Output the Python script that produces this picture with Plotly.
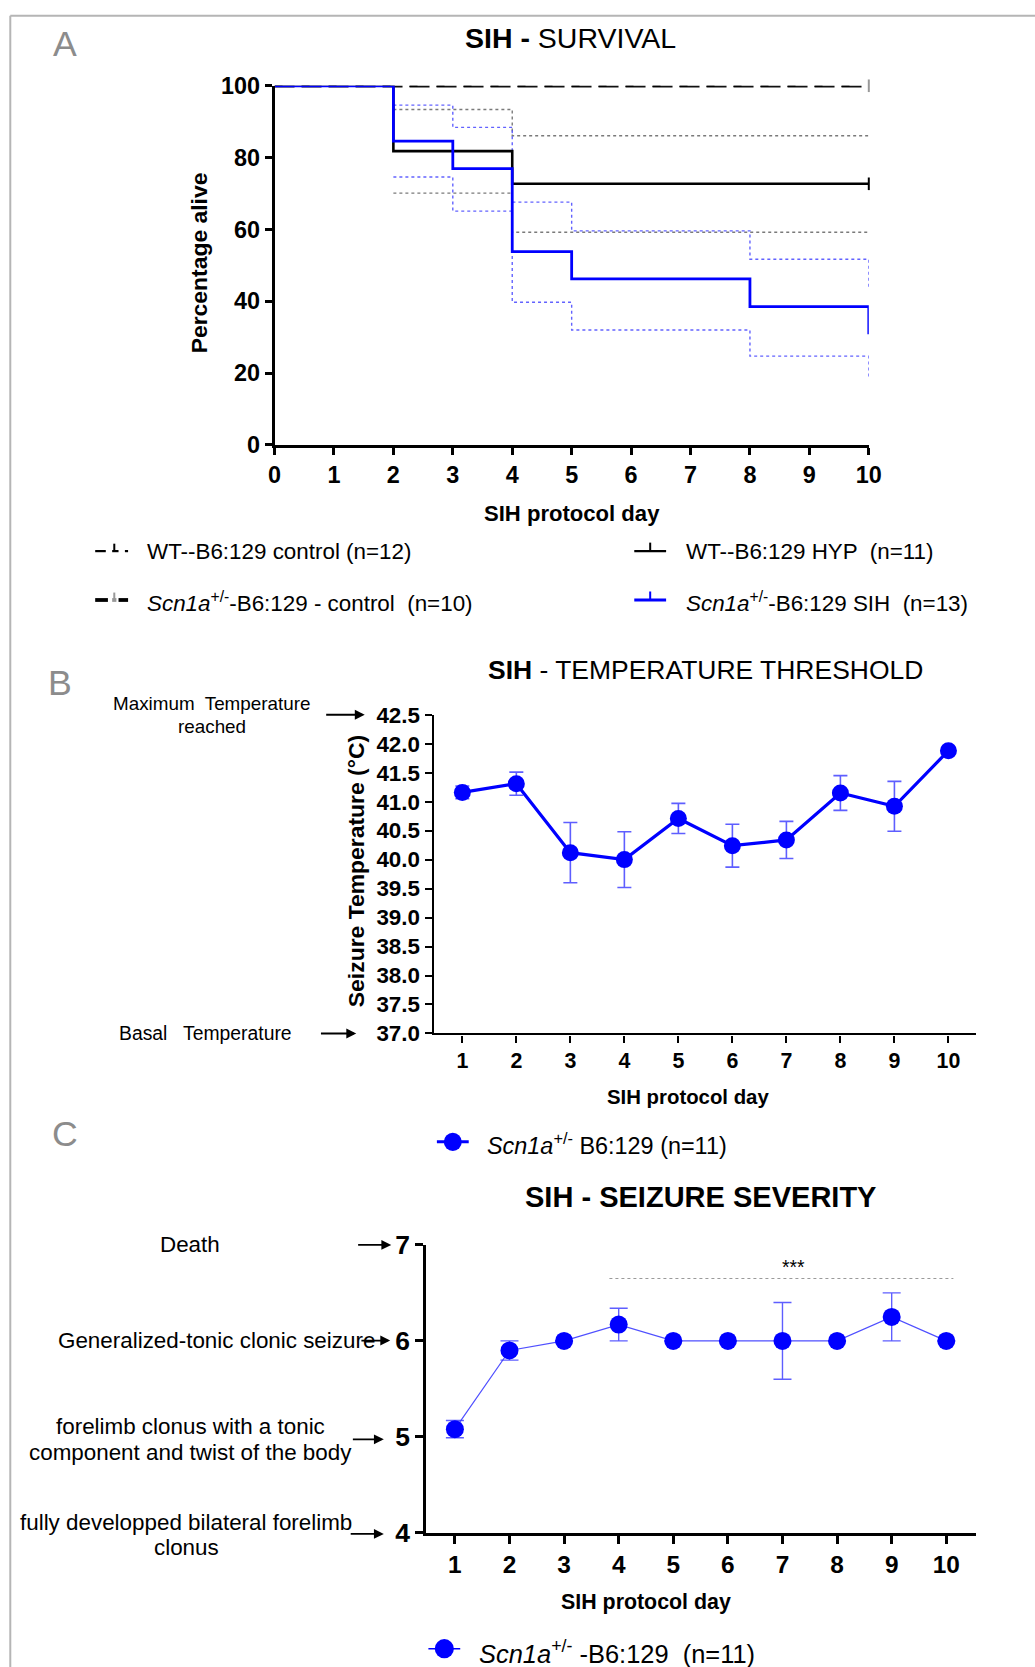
import plotly.graph_objects as go

# ---------------- DATA ----------------
# Panel A - Kaplan-Meier survival
ctrl_days = [0, 10]
wt_ctrl_surv = [100, 100]
scn_ctrl_surv = [100, 100]

hyp_days = [0, 2, 4, 10]
hyp_surv = [100, 81.8, 72.7, 72.7]
hyp_ci_days = [2, 4, 10]
hyp_ci_upper = [93.4, 86.1, 86.1]
hyp_ci_lower = [70.1, 59.2, 59.2]

sih_days = [0, 2, 3, 4, 5, 8, 10]
sih_surv = [100, 84.6, 76.9, 53.8, 46.2, 38.5, 30.8]
sih_ci_days = [2, 3, 4, 5, 8, 10]
sih_ci_upper = [94.6, 88.4, 67.6, 59.6, 51.7, 43.8]
sih_ci_lower = [74.6, 65.1, 39.7, 32.0, 24.7, 18.6]

surv_xticks = list(range(0, 11))
surv_yticks = [0, 20, 40, 60, 80, 100]

# Panel B - temperature threshold
temp_days = [1, 2, 3, 4, 5, 6, 7, 8, 9, 10]
temp_mean = [41.16, 41.31, 40.12, 40.00, 40.71, 40.24, 40.34, 41.15, 40.92, 41.88]
temp_err = [0.11, 0.20, 0.52, 0.48, 0.26, 0.37, 0.32, 0.30, 0.43, 0.04]
temp_yticks = [37.0, 37.5, 38.0, 38.5, 39.0, 39.5, 40.0, 40.5, 41.0, 41.5, 42.0, 42.5]

# Panel C - seizure severity
sev_days = [1, 2, 3, 4, 5, 6, 7, 8, 9, 10]
sev_mean = [5.08, 5.90, 6.00, 6.17, 6.00, 6.00, 6.00, 6.00, 6.25, 6.00]
sev_err = [0.09, 0.10, 0.0, 0.17, 0.0, 0.0, 0.40, 0.0, 0.25, 0.0]
sev_yticks = [4, 5, 6, 7]
sig_x = [3.83, 10.13]
sig_y = 6.65
sig_label = "***"

# ---------------- LAYOUT HELPERS ----------------
W, H = 1035, 1667
VW, VH = 974.0, 1569.0        # reference measured in a scaled view
OX, OY, SC = 4.9, 14.4, 0.982  # observed placement of the page in the photographed view
FS = 1.0 / SC


def px(x):
    return ((x - OX) / SC) / VW


def py(y):
    return 1 - ((y - OY) / SC) / VH


FONT = "Liberation Sans, Arial, sans-serif"
BLUE = "#0000FF"
BLUE_ERR = "rgba(40,40,255,0.75)"
BLUE_DOT = "rgba(70,70,255,0.85)"
GRAY_DOT = "#7a7a7a"

fig = go.Figure()

# ---- Panel A traces ----
fig.add_trace(go.Scatter(x=ctrl_days, y=scn_ctrl_surv, mode="lines",
                         line=dict(color="#111111", width=3.4, dash="20px,7px"), xaxis="x", yaxis="y",
                         showlegend=False, cliponaxis=False))
fig.add_trace(go.Scatter(x=ctrl_days, y=wt_ctrl_surv, mode="lines",
                         line=dict(color="black", width=2.6, dash="8px,19px"), xaxis="x", yaxis="y",
                         showlegend=False, cliponaxis=False))
for ys in [hyp_ci_upper, hyp_ci_lower]:
    fig.add_trace(go.Scatter(x=hyp_ci_days, y=ys, mode="lines", line_shape="hv",
                             line=dict(color=GRAY_DOT, width=1.4, dash="dot"), xaxis="x", yaxis="y", showlegend=False))
for ys in [sih_ci_upper, sih_ci_lower]:
    fig.add_trace(go.Scatter(x=sih_ci_days, y=ys, mode="lines", line_shape="hv",
                             line=dict(color=BLUE_DOT, width=1.4, dash="dot"), xaxis="x", yaxis="y", showlegend=False))
fig.add_trace(go.Scatter(x=hyp_days, y=hyp_surv, mode="lines", line_shape="hv",
                         line=dict(color="black", width=2.6), xaxis="x", yaxis="y", showlegend=False))
fig.add_trace(go.Scatter(x=sih_days, y=sih_surv, mode="lines", line_shape="hv",
                         line=dict(color=BLUE, width=2.8), xaxis="x", yaxis="y", showlegend=False,
                         cliponaxis=False))
# censor ticks at end of follow-up
fig.add_trace(go.Scatter(x=[hyp_days[-1]], y=[hyp_surv[-1]], mode="markers",
                         marker=dict(symbol="line-ns-open", size=9, color="black",
                                     line=dict(color="black", width=2)),
                         xaxis="x", yaxis="y", showlegend=False, cliponaxis=False))
fig.add_trace(go.Scatter(x=[ctrl_days[-1]], y=[scn_ctrl_surv[-1]], mode="markers",
                         marker=dict(symbol="line-ns-open", size=9, color="#999999",
                                     line=dict(color="#999999", width=2)),
                         xaxis="x", yaxis="y", showlegend=False, cliponaxis=False))

# ---- Panel B trace ----
fig.add_trace(go.Scatter(x=temp_days, y=temp_mean, mode="lines+markers",
                         line=dict(color=BLUE, width=3.2),
                         marker=dict(color=BLUE, size=17),
                         error_y=dict(type="data", array=temp_err, color=BLUE_ERR, thickness=1.6, width=7),
                         xaxis="x2", yaxis="y2", showlegend=False, cliponaxis=False))

# ---- Panel C trace ----
fig.add_trace(go.Scatter(x=sev_days, y=sev_mean, mode="lines+markers",
                         line=dict(color="rgba(60,60,255,0.9)", width=1.2),
                         marker=dict(color=BLUE, size=18),
                         error_y=dict(type="data", array=sev_err, color=BLUE_ERR, thickness=1.4, width=9),
                         xaxis="x3", yaxis="y3", showlegend=False, cliponaxis=False))
fig.add_trace(go.Scatter(x=sig_x, y=[sig_y, sig_y], mode="lines",
                         line=dict(color="#9a9a9a", width=1.2, dash="dot"),
                         xaxis="x3", yaxis="y3", showlegend=False))


def tf(size):
    return dict(family=FONT, size=size * FS, color="black", weight="bold")


axis_common = dict(showgrid=False, zeroline=False, showline=True, linecolor="black",
                   ticks="outside", tickcolor="black", fixedrange=True)

fig.update_layout(
    width=W, height=H,
    margin=dict(l=0, r=0, t=0, b=0),
    paper_bgcolor="white", plot_bgcolor="white",
    showlegend=False,
    xaxis=dict(domain=[px(257), px(817)], range=[0, 10], tickvals=surv_xticks,
               linewidth=2.8, ticklen=7, tickwidth=2.8, tickfont=tf(23), anchor="y", **axis_common),
    yaxis=dict(domain=[py(419), py(81)], range=[0, 100], tickvals=surv_yticks,
               linewidth=2.8, ticklen=7, tickwidth=2.8, tickfont=tf(23), anchor="x", **axis_common),
    xaxis2=dict(domain=[px(407), px(918)], range=[0.47, 10.51], tickvals=temp_days,
                linewidth=2.4, ticklen=7, tickwidth=2.2, tickfont=tf(21), anchor="y2", **axis_common),
    yaxis2=dict(domain=[py(973), py(673)], range=[37, 42.5], tickvals=temp_yticks,
                tickformat=".1f",
                linewidth=2.4, ticklen=7, tickwidth=2.2, tickfont=tf(22), anchor="x2", **axis_common),
    xaxis3=dict(domain=[px(400), px(918)], range=[0.476, 10.544], tickvals=sev_days,
                linewidth=2.8, ticklen=8, tickwidth=2.8, tickfont=tf(24), anchor="y3", **axis_common),
    yaxis3=dict(domain=[py(1443), py(1172)], range=[4, 7], tickvals=sev_yticks,
                linewidth=2.8, ticklen=8, tickwidth=2.8, tickfont=tf(26), anchor="x3", **axis_common),
)

ann = []
shapes = []


def text(x, y, s, size=19, xanchor="center", bold=False, color="black", angle=0, family=FONT):
    ann.append(dict(x=px(x), y=py(y), xref="paper", yref="paper", text=s, showarrow=False,
                    xanchor=xanchor, yanchor="middle", textangle=angle,
                    font=dict(family=family, size=size * FS, color=color,
                              weight="bold" if bold else "normal")))


def arrow(x0, x1, y):
    ann.append(dict(x=px(x1), y=py(y), xref="paper", yref="paper", text="", showarrow=True,
                    ax=(x0 - x1) * W / VW / SC, ay=0, axref="pixel", ayref="pixel",
                    arrowhead=2, arrowsize=1.1, arrowwidth=1.8, arrowcolor="black"))


def seg(x0, y0, x1, y1, color="black", width=2, dash="solid", clampy=False):
    Y0, Y1 = py(y0), py(y1)
    if clampy:
        Y0, Y1 = min(Y0, 0.9995), min(Y1, 0.9995)
    shapes.append(dict(type="line", xref="paper", yref="paper", x0=px(x0), y0=Y0, x1=px(x1), y1=Y1,
                       line=dict(color=color, width=width, dash=dash)))


def dot(x, y, r, color=BLUE):
    rx, ry = r / SC / VW, r / SC / VH
    shapes.append(dict(type="circle", xref="paper", yref="paper", x0=px(x) - rx, y0=py(y) - ry,
                       x1=px(x) + rx, y1=py(y) + ry, fillcolor=color, line=dict(color=color, width=0)))


# frame
seg(8, 6, 1000, 6, color="#b5b5b5", width=2, clampy=True)
seg(8, 6, 8, 1600, color="#b5b5b5", width=2, clampy=True)

# panel letters
text(60, 42, "A", size=35, color="#8c8c8c")
text(55, 643, "B", size=35, color="#8c8c8c")
text(60, 1068, "C", size=35, color="#8c8c8c")

# ---- Panel A annotations ----
text(536, 36, "<b>SIH -</b> SURVIVAL", size=28)
text(186, 248, "Percentage alive", size=22.5, bold=True, angle=-90)
text(537, 484, "SIH protocol day", size=21.7, bold=True)

# legend A
seg(88, 519, 98, 519, width=2.2)
seg(104, 519, 110, 519, width=2.2)
seg(106, 519, 106, 512, width=2)
seg(116, 519, 119, 519, width=2.2)
text(135, 519, "WT--B6:129 control (n=12)", size=22, xanchor="left")
seg(596, 519, 626, 519, width=2.4)
seg(611, 519, 611, 511, width=2)
text(643, 519, "WT--B6:129 HYP  (n=11)", size=22, xanchor="left")
seg(88, 565, 100, 565, width=3.8)
seg(104, 565, 108, 565, color="#999999", width=3.8)
seg(106, 565, 106, 558, color="#999999", width=2)
seg(110, 565, 119, 565, width=3.8)
text(135, 567, "<i>Scn1a</i><sup>+/-</sup>-B6:129 - control  (n=10)", size=22, xanchor="left")
seg(596, 565, 626, 565, color=BLUE, width=2.8)
seg(611, 565, 611, 557, color=BLUE, width=2)
text(643, 567, "<i>Scn1a</i><sup>+/-</sup>-B6:129 SIH  (n=13)", size=22, xanchor="left")

# ---- Panel B annotations ----
text(663, 631, "<b>SIH</b> - TEMPERATURE THRESHOLD", size=26)
text(334, 820, "Seizure Temperature (°C)", size=22.5, bold=True, angle=-90)
text(647, 1033, "SIH protocol day", size=20, bold=True)
text(198, 662, "Maximum  Temperature", size=18.5)
text(198, 684, "reached", size=18.5)
arrow(305, 342, 673)
text(192, 973, "Basal   Temperature", size=19)
arrow(300, 334, 973)
# legend B
seg(410, 1075, 440, 1075, color=BLUE, width=3)
dot(425, 1075, 8.5)
text(455, 1077, "<i>Scn1a</i><sup>+/-</sup> B6:129 (n=11)", size=23, xanchor="left")

# ---- Panel C annotations ----
text(658, 1127, "SIH - SEIZURE SEVERITY", size=28.5, bold=True)
text(607, 1508, "SIH protocol day", size=21, bold=True)
text(177, 1172, "Death", size=22)
arrow(335, 367, 1172)
text(202, 1262, "Generalized-tonic clonic seizure", size=22)
arrow(338, 366, 1262)
text(178, 1343, "forelimb clonus with a tonic", size=22)
text(178, 1367, "component and twist of the body", size=22)
arrow(330, 360, 1355)
text(174, 1433, "fully developped bilateral forelimb", size=22)
text(174, 1457, "clonus", size=22)
arrow(328, 360, 1444)
ann.append(dict(x=7.2, y=sig_y, xref="x3", yref="y3", text=sig_label, showarrow=False,
                yanchor="bottom", yshift=-2, font=dict(family=FONT, size=19 * FS, color="black")))
# legend C
seg(402, 1552, 432, 1552, color=BLUE, width=1.5)
dot(417, 1552, 9)
text(448, 1555, "<i>Scn1a</i><sup>+/-</sup> -B6:129  (n=11)", size=25, xanchor="left")

fig.update_layout(annotations=ann, shapes=shapes)

fig.write_html("out.html", config={"displayModeBar": False},
               post_script="document.body.style.margin='0px';document.body.style.overflow='hidden';")
